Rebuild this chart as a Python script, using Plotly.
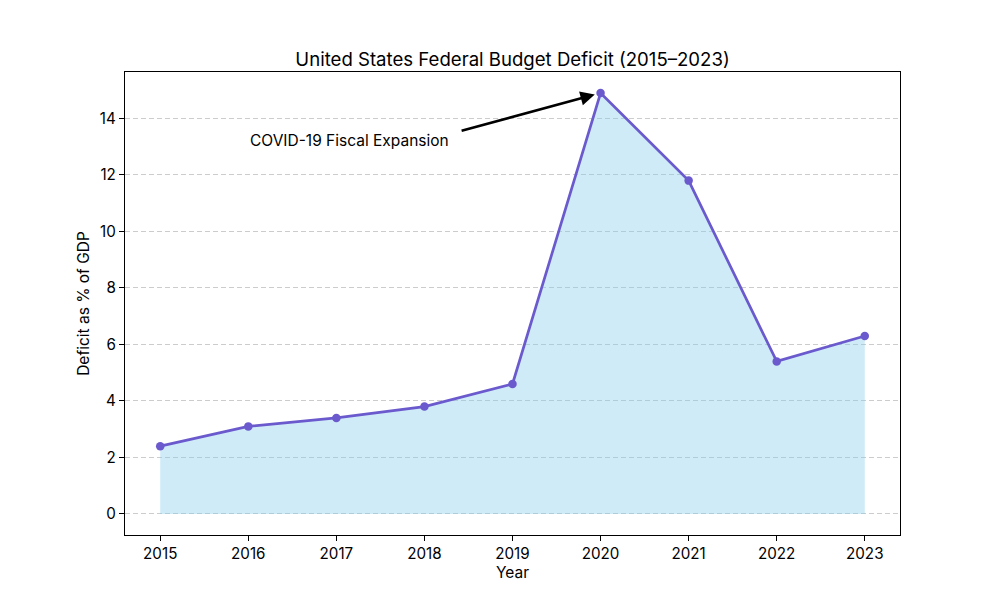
import plotly.graph_objects as go

years = [2015, 2016, 2017, 2018, 2019, 2020, 2021, 2022, 2023]
deficit = [2.4, 3.1, 3.4, 3.8, 4.6, 14.9, 11.8, 5.4, 6.3]
y_ticks = [0, 2, 4, 6, 8, 10, 12, 14]

title = "United States Federal Budget Deficit (2015–2023)"
x_label = "Year"
y_label = "Deficit as % of GDP"
note = "COVID-19 Fiscal Expansion"
peak_year, peak_val = years[5], deficit[5]

FONT = "Inter"

fig = go.Figure()
fig.add_trace(go.Scatter(
    x=years, y=deficit, fill="tozeroy", mode="lines",
    line=dict(width=0), fillcolor="rgba(135,206,235,0.4)",
    hoverinfo="skip", showlegend=False))
fig.add_trace(go.Scatter(
    x=years, y=deficit, mode="lines+markers",
    line=dict(color="#6A5ACD", width=2.7),
    marker=dict(color="#6A5ACD", size=8.5),
    showlegend=False))

fig.add_annotation(x=2016, y=13.0, xref="x", yref="y", text=note,
                   showarrow=False, xanchor="left", yanchor="bottom",
                   yshift=-5,
                   font=dict(family=FONT, size=15.5, color="black"))
fig.add_annotation(x=peak_year, y=peak_val, xref="x", yref="y",
                   ax=2018.405, ay=13.55, axref="x", ayref="y",
                   text="", showarrow=True, arrowhead=2, arrowsize=1.1,
                   arrowwidth=2.6, arrowcolor="black", standoff=6)

axis_common = dict(showline=True, linecolor="black", linewidth=1.2, mirror=True,
                   ticks="outside", ticklen=5, tickwidth=1, tickcolor="black",
                   zeroline=False,
                   tickfont=dict(family=FONT, size=15.2, color="black"))

fig.update_xaxes(range=[2014.6, 2023.4], tickvals=years, showgrid=False,
                 title=dict(text=x_label, font=dict(family=FONT, size=15.5, color="black"), standoff=3),
                 **axis_common)
fig.update_yaxes(range=[-0.745, 15.645], tickvals=y_ticks, showgrid=True,
                 gridcolor="#cccccc", griddash="5px,3px", gridwidth=1,
                 title=dict(text=y_label, font=dict(family=FONT, size=15.5, color="black"), standoff=6),
                 **axis_common)

fig.update_layout(
    width=1000, height=600,
    margin=dict(l=125, r=100, t=72, b=65),
    plot_bgcolor="white", paper_bgcolor="white",
    title=dict(text=title, x=0.5125, xanchor="center", y=0.89, yanchor="bottom",
               font=dict(family=FONT, size=18.6, color="black")),
)

fig.write_html("out.html")
